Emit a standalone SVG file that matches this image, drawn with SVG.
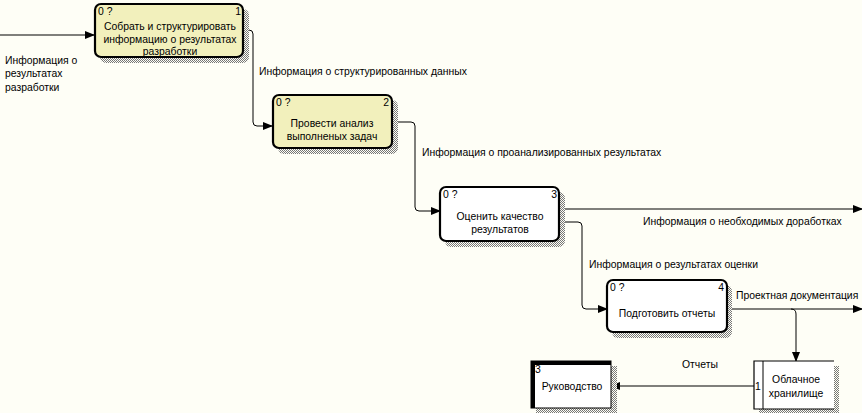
<svg xmlns="http://www.w3.org/2000/svg" width="862" height="413" viewBox="0 0 862 413">
<defs>
<pattern id="hatch" width="2" height="2" patternUnits="userSpaceOnUse">
<rect width="2" height="2" fill="#fefef6"/>
<rect width="1" height="1" fill="#777"/>
<rect x="1" y="1" width="1" height="1" fill="#777"/>
</pattern>
<marker id="arr" markerWidth="10" markerHeight="8" refX="9" refY="4" orient="auto" markerUnits="userSpaceOnUse">
<path d="M0,0 L10,4 L0,8 Z" fill="#000"/>
</marker>
</defs>
<style>
text{font-family:"Liberation Sans",Arial,sans-serif;font-size:10.4px;fill:#000}
.c{text-anchor:middle}
.e{text-anchor:end}
.box{stroke:#000;stroke-width:2.2}
.y{fill:#f2f0bc}
.w{fill:#fff}
.sh{fill:url(#hatch)}
.ln{fill:none;stroke:#000;stroke-width:1}
</style>
<rect width="862" height="413" fill="#fefef6"/>

<g id="connectors">
<path class="ln" d="M0,35 H94" marker-end="url(#arr)"/>
<path class="ln" d="M243,30 H249 Q253,30 253,34 V122 Q253,126 257,126 H272" marker-end="url(#arr)"/>
<path class="ln" d="M392,122 H411 Q415,122 415,126 V207 Q415,211 419,211 H440" marker-end="url(#arr)"/>
<path class="ln" d="M559,209 H862" marker-end="url(#arr)"/>
<path class="ln" d="M559,222 H578 Q582,222 582,226 V305 Q582,309 586,309 H607" marker-end="url(#arr)"/>
<path class="ln" d="M727,309 H862" marker-end="url(#arr)"/>
<path class="ln" d="M791,309 Q796,309 796,314 V361" marker-end="url(#arr)"/>
<path class="ln" d="M754,386 H611" marker-end="url(#arr)"/>
<text x="5" y="64">Информация о</text>
<text x="5" y="77">результатах</text>
<text x="5" y="91">разработки</text>
<text x="259" y="75">Информация о структурированных данных</text>
<text x="422" y="156">Информация о проанализированных результатах</text>
<text x="643" y="225">Информация о необходимых доработках</text>
<text x="589" y="268">Информация о результатах оценки</text>
<text x="736" y="299">Проектная документация</text>
<text x="682" y="368">Отчеты</text>
</g>

<g id="node1">
<rect class="sh" x="100" y="9" width="149" height="54" rx="6"/>
<rect class="box y" x="95" y="4" width="148" height="53" rx="6"/>
<text x="98" y="15">0 ?</text>
<text class="e" x="241" y="15">1</text>
<text class="c" x="170" y="30">Собрать и структурировать</text>
<text class="c" x="170" y="43">информацию о результатах</text>
<text class="c" x="170" y="55">разработки</text>
</g>

<g id="node2">
<rect class="sh" x="278" y="100" width="120" height="54" rx="6"/>
<rect class="box y" x="273" y="95" width="119" height="53" rx="6"/>
<text x="276" y="106">0 ?</text>
<text class="e" x="389" y="106">2</text>
<text class="c" x="332" y="127">Провести анализ</text>
<text class="c" x="332" y="140">выполненых задач</text>
</g>

<g id="node3">
<rect class="sh" x="445" y="192" width="120" height="55" rx="6"/>
<rect class="box w" x="440" y="187" width="119" height="54" rx="6"/>
<text x="443" y="198">0 ?</text>
<text class="e" x="557" y="198">3</text>
<text class="c" x="500" y="220">Оценить качество</text>
<text class="c" x="500" y="233">результатов</text>
</g>

<g id="node4">
<rect class="sh" x="612" y="285" width="120" height="53" rx="6"/>
<rect class="box w" x="607" y="280" width="120" height="52" rx="6"/>
<text x="610" y="291">0 ?</text>
<text class="e" x="724" y="291">4</text>
<text class="c" x="667" y="317">Подготовить отчеты</text>
</g>

<g id="node5">
<rect class="sh" x="536" y="366" width="81" height="47"/>
<rect x="531" y="361" width="80" height="47" fill="#fff" stroke="#000" stroke-width="1"/>
<path d="M533,408 V363 H611" fill="none" stroke="#000" stroke-width="4"/>
<text x="535" y="373">3</text>
<text class="c" x="572" y="390">Руководство</text>
</g>

<g id="node6">
<rect class="sh" x="759" y="366" width="80" height="47"/>
<rect x="754" y="361" width="80" height="48" fill="#fff"/>
<path d="M834,361 H754 V409 H834" fill="none" stroke="#000" stroke-width="1.2"/>
<path d="M763,361 V409" fill="none" stroke="#000" stroke-width="1"/>
<text x="755" y="390">1</text>
<text class="c" x="796" y="383">Облачное</text>
<text class="c" x="796" y="397">хранилище</text>
</g>
</svg>
